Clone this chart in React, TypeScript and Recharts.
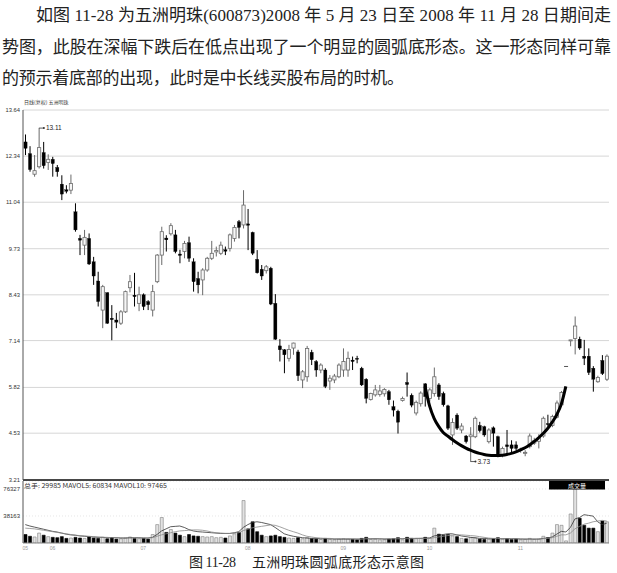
import React from 'react';
import { ComposedChart, Bar, Line, XAxis, YAxis, CartesianGrid, ReferenceLine, ReferenceDot, Cell } from 'recharts';

// Trading days (2008), by month
const MAY = [23, 26, 27, 28, 29, 30];
const JUN = [2, 3, 4, 5, 6, 10, 11, 12, 13, 16, 17, 18, 19, 20, 23, 24, 25, 26, 27, 30];
const JUL = [1, 2, 3, 4, 7, 8, 9, 10, 11, 14, 15, 16, 17, 18, 21, 22, 23, 24, 25, 28, 29, 30, 31];
const AUG = [1, 4, 5, 6, 7, 8, 11, 12, 13, 14, 15, 18, 19, 20, 21, 22, 25, 26, 27, 28, 29];
const SEP = [1, 2, 3, 4, 5, 8, 9, 10, 11, 12, 16, 17, 18, 19, 22, 23, 24, 25, 26];
const OCT = [6, 7, 8, 9, 10, 13, 14, 15, 16, 17, 20, 21, 22, 23, 24, 27, 28, 29, 30, 31];
const NOV = [3, 4, 5, 6, 7, 10, 11, 12, 13, 14, 17, 18, 19, 20, 21, 24, 25, 26, 27, 28];

const OPEN = [
  12.74, 12.41, 11.83, 12.04, 12.44, 12.16, 12.25, 12.02, 11.55, 11.39,
  11.38, 10.77, 10.02, 9.83, 10.02, 9.36, 8.82, 8.0, 8.49, 7.77,
  7.72, 7.63, 7.95, 8.63, 8.42, 8.19, 8.43, 8.24, 8.0, 8.8,
  9.55, 10.03, 10.15, 10.12, 9.58, 9.65, 9.9, 9.36, 8.89, 8.85,
  9.13, 9.46, 9.64, 9.6, 9.7, 9.74, 10.02, 10.49, 10.4, 10.43,
  10.19, 9.43, 9.15, 9.11, 9.18, 8.19, 6.99, 6.88, 6.64, 6.93,
  6.82, 6.03, 6.12, 6.81, 6.55, 6.31, 6.31, 6.0, 6.03, 6.12,
  6.31, 6.31, 6.59, 6.64, 6.36, 6.05, 5.48, 5.61, 5.62, 5.64,
  5.7, 5.28, 5.15, 5.45, 5.96, 5.6, 5.1, 5.36, 5.92, 5.51,
  5.65, 5.89, 5.65, 5.3, 4.48, 5.04, 4.62, 4.45, 4.43, 4.43,
  4.75, 4.71, 4.29, 4.68, 4.43, 3.92, 4.2, 4.2, 4.2, 4.05,
  3.98, 4.15, 4.25, 4.3, 4.45, 4.8, 4.75, 4.98, 5.33, 6.41,
  7.15, 7.2, 7.18, 6.7, 6.7, 6.36, 5.98, 6.58, 6.05,
];
const HIGH = [
  12.95, 12.62, 12.37, 13.13, 12.74, 12.39, 12.32, 12.09, 11.8, 11.52,
  11.82, 11.01, 10.12, 10.26, 10.16, 9.5, 9.08, 8.71, 8.5, 8.14,
  7.92, 8.0, 8.55, 8.99, 9.05, 8.66, 8.47, 8.28, 8.71, 9.58,
  10.35, 10.11, 10.45, 10.26, 9.7, 9.95, 10.07, 9.46, 9.08, 9.18,
  9.5, 9.95, 9.79, 9.93, 9.79, 10.16, 10.4, 10.54, 11.38, 10.85,
  10.21, 9.69, 9.27, 9.27, 9.22, 8.45, 7.18, 6.9, 7.02, 7.08,
  6.88, 6.31, 6.99, 6.88, 6.59, 6.5, 6.36, 6.17, 6.2, 6.5,
  6.92, 6.83, 6.69, 6.71, 6.4, 6.08, 5.67, 5.89, 5.89, 5.8,
  5.75, 5.45, 5.19, 5.56, 6.24, 5.65, 5.45, 5.71, 5.94, 5.8,
  6.38, 5.94, 5.7, 5.33, 4.95, 5.09, 4.81, 4.48, 4.7, 5.0,
  4.85, 4.74, 4.67, 4.72, 4.46, 4.15, 4.62, 4.33, 4.3, 4.12,
  4.05, 4.52, 4.4, 4.5, 5.0, 5.05, 5.05, 5.45, 5.72, 6.41,
  7.16, 7.82, 7.25, 7.16, 6.92, 6.42, 6.15, 6.73, 6.75,
];
const LOW = [
  12.37, 11.9, 11.76, 11.99, 11.99, 11.95, 11.76, 11.76, 11.1, 11.29,
  11.27, 10.21, 9.55, 9.55, 9.27, 8.71, 8.1, 7.49, 7.61, 7.15,
  7.49, 7.58, 7.92, 8.5, 8.1, 7.97, 8.0, 8.0, 7.82, 8.76,
  9.27, 9.65, 10.1, 9.6, 9.32, 9.46, 9.36, 8.52, 8.47, 8.42,
  9.08, 9.41, 9.51, 9.55, 9.55, 9.65, 9.93, 10.02, 10.3, 9.69,
  9.55, 9.03, 8.85, 9.03, 8.14, 7.16, 6.55, 6.22, 6.55, 6.74,
  6.0, 5.8, 5.98, 6.45, 6.12, 6.22, 5.8, 5.75, 5.94, 6.08,
  6.12, 6.12, 6.31, 6.5, 5.86, 5.37, 5.45, 5.56, 5.56, 5.56,
  5.33, 5.0, 4.52, 5.42, 5.56, 5.26, 5.03, 5.28, 5.28, 5.42,
  5.56, 5.47, 5.28, 4.62, 4.2, 4.62, 4.53, 4.24, 3.73, 4.39,
  4.55, 4.43, 4.24, 4.15, 3.85, 3.85, 3.92, 3.95, 4.05, 3.98,
  3.88, 4.1, 4.2, 4.1, 4.4, 4.72, 4.7, 4.95, 5.28, 6.41,
  6.98, 6.75, 6.88, 6.45, 6.17, 5.7, 5.95, 6.17, 6.0,
];
const CLOSE = [
  12.56, 11.96, 11.93, 12.58, 12.07, 12.25, 12.13, 11.9, 11.27, 11.35,
  11.57, 10.26, 9.97, 10.05, 9.3, 8.96, 8.24, 8.66, 7.63, 7.73,
  7.66, 7.95, 8.52, 8.8, 8.38, 8.43, 8.1, 8.15, 8.52, 9.55,
  10.21, 9.98, 10.38, 9.65, 9.54, 9.88, 9.46, 8.8, 8.71, 9.13,
  9.46, 9.6, 9.68, 9.83, 9.66, 10.12, 10.33, 10.33, 10.96, 10.39,
  9.6, 9.05, 8.96, 9.22, 8.17, 7.18, 6.88, 6.74, 6.89, 7.07,
  6.15, 6.26, 6.92, 6.6, 6.31, 6.45, 5.85, 6.08, 6.14, 6.45,
  6.55, 6.64, 6.55, 6.62, 5.89, 5.51, 5.65, 5.75, 5.72, 5.76,
  5.47, 5.18, 4.84, 5.51, 5.9, 5.32, 5.4, 5.66, 5.56, 5.75,
  6.12, 5.56, 5.33, 4.67, 4.83, 4.67, 4.73, 4.29, 4.48, 4.95,
  4.6, 4.48, 4.62, 4.53, 3.92, 4.1, 4.15, 4.1, 4.1, 4.08,
  3.99, 4.45, 4.32, 4.4, 4.95, 4.77, 5.0, 5.38, 5.68, 6.41,
  7.16, 7.55, 6.93, 6.64, 6.24, 6.05, 6.1, 6.21, 6.7,
];
const VOLUME = [
  12000, 9500, 8500, 14000, 11000, 9000, 8000, 7500, 9000, 6500,
  7000, 8000, 7000, 6500, 8500, 7000, 6500, 8000, 6000, 7500,
  5500, 6000, 7000, 8500, 6500, 6000, 6500, 5500, 12000, 26000,
  36000, 15000, 19000, 14000, 11000, 9000, 12000, 10000, 9500, 9000,
  8500, 9000, 7500, 8000, 7000, 10000, 13000, 15000, 60000, 20000,
  30000, 16000, 11000, 9000, 10000, 11000, 9000, 8000, 7000, 6500,
  7500, 6000, 7500, 6000, 5500, 5000, 6500, 5000, 4500, 5500,
  6000, 5500, 5000, 4500, 6500, 8000, 5000, 5500, 4500, 4500,
  5500, 6000, 7500, 4500, 8000, 6500, 6000, 6500, 8000, 7000,
  21000, 12500, 11000, 12000, 10000, 9000, 6500, 6000, 7500, 7000,
  5500, 5000, 5500, 6000, 7500, 5500, 6000, 5000, 5500, 4500,
  5000, 6500, 5000, 5500, 9500, 7500, 14000, 26000, 25000, 3000,
  41000, 76000, 35000, 25000, 21000, 21000, 16000, 31000, 30000,
];
const MAVOL5 = [
  26000, 24000, 22500, 21000, 19500, 18000, 16500, 15500, 14000, 12500,
  11500, 11000, 10000, 9500, 9000, 8500, 8000, 8000, 7500, 7500,
  7500, 7000, 7000, 7500, 7500, 7500, 7000, 7000, 8000, 12000,
  17000, 20000, 23000, 23500, 24000, 22000, 19000, 17000, 16000, 15500,
  15000, 14500, 14000, 13500, 13500, 13500, 14500, 16000, 22000, 26000,
  29000, 30000, 29000, 27500, 26000, 22000, 17500, 13000, 11000, 9500,
  8500, 7500, 7000, 6500, 6500, 6000, 6000, 6000, 5500, 5500,
  5500, 5500, 5500, 5500, 5500, 6000, 6000, 6000, 6000, 5500,
  5500, 5500, 6000, 6000, 6500, 6500, 6500, 6500, 7000, 7000,
  10000, 11000, 12000, 13000, 13000, 11500, 10000, 9000, 8000, 7500,
  6500, 6500, 6000, 6000, 6000, 6000, 6000, 6000, 6000, 5500,
  5500, 5500, 5500, 5500, 6500, 7000, 8500, 12500, 16500, 15500,
  22000, 34000, 36000, 40000, 39000, 38000, 30000, 26000, 28000,
];
const MAVOL10 = [
  21000, 20500, 20000, 19000, 18000, 17000, 16000, 15000, 14000, 13000,
  12000, 11000, 10500, 10000, 9500, 9000, 8500, 8000, 8000, 7500,
  7500, 7500, 7000, 7000, 7000, 7000, 7000, 7000, 7500, 9500,
  11500, 13000, 14500, 16000, 17000, 17500, 18000, 18500, 18500, 18000,
  17000, 15500, 14500, 14000, 13500, 13500, 14000, 14500, 17500, 19500,
  21500, 22500, 23500, 24500, 25500, 25000, 23000, 20500, 18000, 16000,
  14000, 11500, 9500, 8500, 7500, 7000, 6500, 6500, 6000, 6000,
  6000, 6000, 6000, 5500, 5500, 6000, 6000, 6000, 6000, 6000,
  6000, 6000, 6000, 6000, 6000, 6000, 6500, 6500, 6500, 6500,
  7500, 8500, 9500, 10500, 11000, 11500, 11500, 11000, 10500, 10000,
  9000, 8000, 7000, 6500, 6500, 6000, 6000, 6000, 6000, 6000,
  5500, 5500, 5500, 5500, 6000, 6500, 7500, 9500, 11500, 11500,
  14000, 20000, 23500, 26500, 28000, 30000, 31000, 32000, 31000,
];
// hand-drawn rounded-bottom arc annotation, read per trading day starting at ARC_START
const ARC_START = 88;
const ARC = [
  5.85, 5.3, 4.95, 4.72, 4.55, 4.45, 4.35, 4.26, 4.18, 4.11,
  4.05, 4.0, 3.96, 3.93, 3.91, 3.9, 3.9, 3.91, 3.93, 3.96,
  4.0, 4.06, 4.12, 4.2, 4.29, 4.4, 4.52, 4.66, 4.84, 5.05,
  5.35, 5.85,
];

const PRICE_TICKS = [3.21, 4.53, 5.82, 7.14, 8.43, 9.73, 11.04, 12.34, 13.64];
const VOL_TICKS = [38163, 76327];
const MONTH_TICKS = ['05-23', '06-02', '07-01', '08-01', '09-01', '10-06', '11-03'];
const MONTH_LABELS = ['05', '06', '07', '08', '09', '10', '11'];
const MAX_LABEL = '13.11';
const MIN_LABEL = '3.73';
const MAX_IDX = 3;
const MIN_IDX = 98;

const BOOK_LINES = [
  '如图 11-28 为五洲明珠(600873)2008 年 5 月 23 日至 2008 年 11 月 28 日期间走',
  '势图，此股在深幅下跌后在低点出现了一个明显的圆弧底形态。这一形态同样可靠',
  '的预示着底部的出现，此时是中长线买股布局的时机。',
];
const CHART_TITLE = '日线(复权)  五洲明珠';
const VOL_HEADER = '总手: 29985  MAVOL5: 60834  MAVOL10: 97465';
const VOL_TAG = '成交量';
const CAPTION_NUM = '图 11-28';
const CAPTION_TEXT = '五洲明珠圆弧底形态示意图';

const pad = (n: number) => (n < 10 ? '0' + n : '' + n);
const DATES: string[] = [
  ...MAY.map((d) => '05-' + pad(d)),
  ...JUN.map((d) => '06-' + pad(d)),
  ...JUL.map((d) => '07-' + pad(d)),
  ...AUG.map((d) => '08-' + pad(d)),
  ...SEP.map((d) => '09-' + pad(d)),
  ...OCT.map((d) => '10-' + pad(d)),
  ...NOV.map((d) => '11-' + pad(d)),
];

const data = DATES.map((d, i) => ({
  d,
  o: OPEN[i],
  h: HIGH[i],
  l: LOW[i],
  c: CLOSE[i],
  range: [LOW[i], HIGH[i]],
  vol: VOLUME[i],
  ma5: MAVOL5[i],
  ma10: MAVOL10[i],
  arc: i >= ARC_START && i < ARC_START + ARC.length ? ARC[i - ARC_START] : null,
}));

const AXIS_FONT = "'Liberation Sans', Arial, sans-serif";
const BOOK_FONT = "'Liberation Serif', 'Noto Sans CJK SC', serif";

const Candle = (props: any) => {
  const { x, y, width, height, payload } = props;
  if (!payload || x == null || y == null) return <g />;
  const { o, h, l, c } = payload;
  const top = Math.min(y, y + (height || 0));
  const bot = Math.max(y, y + (height || 0));
  const cx = x + width / 2;
  const span = h - l;
  const up = c >= o;
  const color = up ? '#6a6a6a' : '#000';
  if (span <= 0) {
    return <line x1={cx - 2} x2={cx + 2} y1={top} y2={top} stroke="#555" strokeWidth={1} />;
  }
  const py = (p: number) => top + ((h - p) / span) * (bot - top);
  const bTop = py(Math.max(o, c));
  const bBot = py(Math.min(o, c));
  const bw = 3.2;
  return (
    <g>
      <line x1={cx} x2={cx} y1={top} y2={bot} stroke={color} strokeWidth={1} />
      <rect
        x={cx - bw / 2}
        y={bTop}
        width={bw}
        height={Math.max(bBot - bTop, 1)}
        fill={up ? '#f6f6f6' : '#000'}
        stroke={color}
        strokeWidth={up ? 0.8 : 0.3}
      />
    </g>
  );
};

const pointerLabel = (text: string) => (props: any) => {
  const { cx, cy } = props;
  if (cx == null || cy == null) return <g />;
  return (
    <g>
      <line x1={cx} y1={cy} x2={cx + 5} y2={cy} stroke="#333" strokeWidth={0.8} />
      <circle cx={cx + 5} cy={cy} r={1} fill="#333" />
      <text x={cx + 7} y={cy} dy="0.35em" fontSize={6.5} fill="#222" fontFamily={AXIS_FONT}>
        {text}
      </text>
    </g>
  );
};

export default function App() {
  return (
    <div style={{ position: 'absolute', left: 0, top: 0, width: 617, height: 573, background: '#fff', overflow: 'hidden' }}>
      <svg width={617} height={573} style={{ position: 'absolute', left: 0, top: 0 }}>
        <text x={36} y={20.5} fontSize={17} fill="#222" fontFamily={BOOK_FONT} textLength={575} lengthAdjust="spacing">
          {BOOK_LINES[0]}
        </text>
        <text x={2} y={52.5} fontSize={17} fill="#222" fontFamily={BOOK_FONT} textLength={609} lengthAdjust="spacing">
          {BOOK_LINES[1]}
        </text>
        <text x={2} y={83.5} fontSize={17} fill="#222" fontFamily={BOOK_FONT} textLength={402} lengthAdjust="spacing">
          {BOOK_LINES[2]}
        </text>
        <text x={189} y={567} fontSize={14} fill="#222" fontFamily={BOOK_FONT} textLength={47} lengthAdjust="spacing">
          {CAPTION_NUM}
        </text>
        <text x={252} y={567} fontSize={14} fill="#222" fontFamily={BOOK_FONT} textLength={172} lengthAdjust="spacing">
          {CAPTION_TEXT}
        </text>
      </svg>

      <div style={{ position: 'absolute', left: 0, top: 100 }}>
        <ComposedChart width={617} height={390} data={data} margin={{ top: 10, right: 8, bottom: 10, left: 0 }} barCategoryGap={0} barGap={0}>
          <CartesianGrid yAxisId="p" vertical={false} stroke="#d6d6d6" />
          <XAxis dataKey="d" hide />
          <YAxis
            yAxisId="p"
            domain={[3.21, 13.64]}
            ticks={PRICE_TICKS}
            interval={0}
            width={23}
            allowDataOverflow
            tick={{ fontSize: 5.8, fill: '#333', fontFamily: AXIS_FONT }}
            tickLine={false}
            tickSize={2}
            tickMargin={1}
            axisLine={{ stroke: '#555' }}
          />
          <YAxis yAxisId="r" orientation="right" width={0} domain={[3.21, 13.64]} tick={false} tickLine={false} axisLine={{ stroke: '#555' }} />
          <ReferenceLine yAxisId="p" y={3.21} stroke="#111" strokeWidth={1.5} />
          <Bar yAxisId="p" dataKey="range" barSize={3} shape={Candle} isAnimationActive={false} />
          <Line
            yAxisId="p"
            dataKey="arc"
            type="monotone"
            stroke="#000"
            strokeWidth={3}
            dot={false}
            activeDot={false}
            connectNulls={false}
            isAnimationActive={false}
          />
          <ReferenceDot yAxisId="p" x={DATES[MAX_IDX]} y={HIGH[MAX_IDX]} r={0} shape={pointerLabel(MAX_LABEL)} />
          <ReferenceDot yAxisId="p" x={DATES[MIN_IDX]} y={LOW[MIN_IDX]} r={0} shape={pointerLabel(MIN_LABEL)} />
        </ComposedChart>
      </div>

      <div style={{ position: 'absolute', left: 0, top: 481 }}>
        <ComposedChart width={617} height={72} data={data} margin={{ top: 0, right: 8, bottom: 0, left: 0 }} barCategoryGap={0} barGap={0}>
          <CartesianGrid yAxisId="v" vertical={false} stroke="#e6e6e6" strokeDasharray="1 2" />
          <XAxis
            dataKey="d"
            ticks={MONTH_TICKS}
            interval={0}
            tickFormatter={(v: string) => MONTH_LABELS[MONTH_TICKS.indexOf(v)]}
            height={10}
            tick={{ fontSize: 5, fill: '#999', fontFamily: AXIS_FONT }}
            tickLine={false}
            tickSize={0}
            tickMargin={3}
            axisLine={{ stroke: '#888' }}
          />
          <YAxis
            yAxisId="v"
            domain={[0, 87600]}
            ticks={VOL_TICKS}
            interval={0}
            width={23}
            allowDataOverflow
            tick={{ fontSize: 6, fill: '#333', fontFamily: AXIS_FONT }}
            tickLine={false}
            tickSize={2}
            tickMargin={1}
            axisLine={{ stroke: '#555' }}
          />
          <YAxis yAxisId="r" orientation="right" width={0} domain={[0, 87600]} tick={false} tickLine={false} axisLine={{ stroke: '#555' }} />
          <Bar yAxisId="v" dataKey="vol" barSize={3} isAnimationActive={false}>
            {data.map((e, i) => (
              <Cell
                key={i}
                fill={e.c >= e.o ? '#e2e2e2' : '#000'}
                stroke={e.c >= e.o ? '#808080' : '#000'}
                strokeWidth={0.6}
              />
            ))}
          </Bar>
          <Line yAxisId="v" dataKey="ma5" type="linear" stroke="#333" strokeWidth={0.8} dot={false} activeDot={false} isAnimationActive={false} />
          <Line yAxisId="v" dataKey="ma10" type="linear" stroke="#8a8a8a" strokeWidth={0.8} dot={false} activeDot={false} isAnimationActive={false} />
        </ComposedChart>
      </div>

      <svg width={617} height={573} style={{ position: 'absolute', left: 0, top: 0, pointerEvents: 'none' }}>
        <text x={24} y={104} fontSize={5} fill="#333" fontFamily="'Noto Sans CJK SC', sans-serif">
          {CHART_TITLE}
        </text>
        <text x={24} y={487.5} fontSize={6} fill="#333" fontFamily="'Noto Sans CJK SC', sans-serif" textLength={143} lengthAdjust="spacingAndGlyphs">
          {VOL_HEADER}
        </text>
        <rect x={549} y={481} width={56} height={8.5} fill="#000" />
        <text x={577} y={488} fontSize={6} fill="#fff" textAnchor="middle" fontFamily="'Noto Sans CJK SC', sans-serif">
          {VOL_TAG}
        </text>
      </svg>
    </div>
  );
}
